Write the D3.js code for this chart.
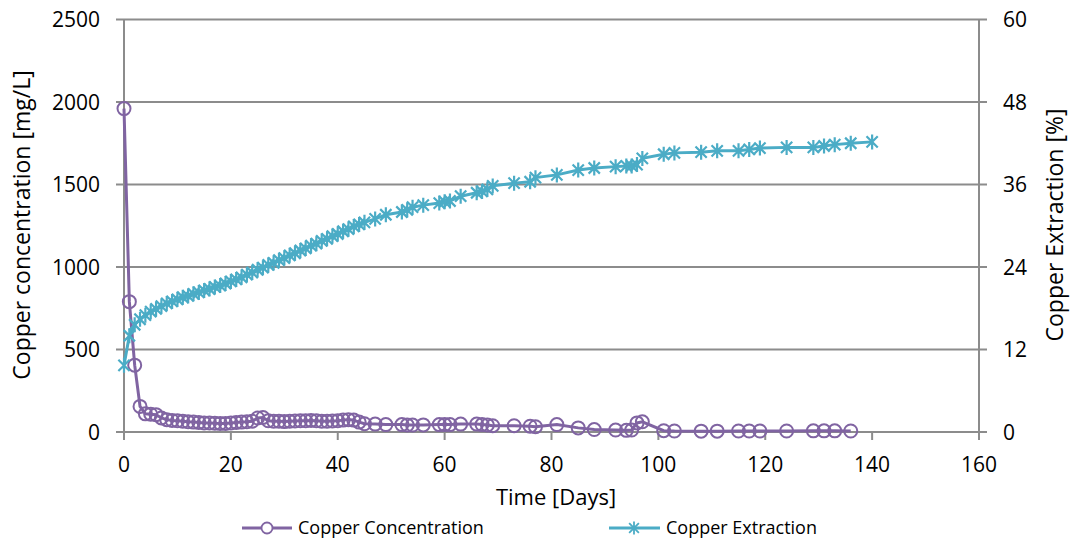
<!DOCTYPE html>
<html>
<head>
<meta charset="utf-8">
<script src="https://d3js.org/d3.v7.min.js"></script>
<style>
  body { margin: 0; background: #fff; }
  text { font-family: "Open Sans", sans-serif; fill: #000; }
</style>
</head>
<body>
<svg id="chart" width="1072" height="542"></svg>
<script>
// sampling days (extraction has one more reading at day 140)
var days = [0,1,2,3,4,5,6,7,8,9,10,11,12,13,14,15,16,17,18,19,20,21,22,23,24,25,26,27,28,29,
  30,31,32,33,34,35,36,37,38,39,40,41,42,43,44,45,47,49,52,53,54,56,59,60,61,63,66,67,68,69,
  73,76,77,81,85,88,92,94,95,96,97,101,103,108,111,115,117,119,124,129,131,133,136,140];

// copper concentration [mg/L]
var concentration = [1960,790,405,155,110,108,105,85,75,70,68,65,62,60,58,55,55,53,52,52,
  55,58,60,62,65,85,88,68,65,65,63,65,67,68,68,70,68,65,65,67,68,72,75,72,60,50,
  48,45,45,42,42,43,45,45,45,48,48,45,42,38,38,35,32,45,25,15,12,10,12,55,62,
  8,6,5,5,6,6,6,6,7,7,7,6,null];

// copper extraction [%]
var extraction = [9.7,14.0,15.6,16.4,17.0,17.5,17.9,18.3,18.7,19.0,19.3,19.6,19.8,20.1,20.3,
  20.6,20.8,21.1,21.3,21.6,21.9,22.2,22.5,22.9,23.2,23.6,23.9,24.3,24.6,25.0,25.3,25.7,26.0,
  26.4,26.7,27.1,27.4,27.8,28.1,28.5,28.8,29.2,29.5,29.9,30.2,30.5,
  31.0,31.6,32.0,32.3,32.7,33.0,33.3,33.5,33.6,34.3,34.8,35.0,35.3,35.8,36.2,36.4,37.0,37.4,
  38.1,38.4,38.6,38.7,38.7,38.9,39.8,40.4,40.6,40.7,40.9,40.9,41.1,41.3,41.4,41.4,41.6,41.8,42.0,42.2];

var xTicks = [0,20,40,60,80,100,120,140,160];
var leftTicks = [0,500,1000,1500,2000,2500];
var rightTicks = [0,12,24,36,48,60];

var purple = "#8064a2", teal = "#4bacc6", grid = "#8c8c8c";

var svg = d3.select("#chart");

var x = d3.scaleLinear().domain([0,160]).range([124,979]);
var yL = d3.scaleLinear().domain([0,2500]).range([432,19.5]);
var yR = d3.scaleLinear().domain([0,60]).range([432,19.5]);

// horizontal gridlines
svg.append("g").selectAll("line").data(leftTicks).join("line")
  .attr("x1", x(0) - 8).attr("x2", x(160) + 8)
  .attr("y1", d => yL(d)).attr("y2", d => yL(d))
  .attr("stroke", grid).attr("stroke-width", 2);

// left and right axis lines
svg.append("line").attr("x1", x(0)).attr("x2", x(0)).attr("y1", yL(2500)).attr("y2", yL(0) + 8)
  .attr("stroke", grid).attr("stroke-width", 2);
svg.append("line").attr("x1", x(160)).attr("x2", x(160)).attr("y1", yL(2500)).attr("y2", yL(0) + 8)
  .attr("stroke", grid).attr("stroke-width", 2);

// bottom tick marks
svg.append("g").selectAll("line").data(xTicks).join("line")
  .attr("x1", d => x(d)).attr("x2", d => x(d))
  .attr("y1", yL(0)).attr("y2", yL(0) + 8)
  .attr("stroke", grid).attr("stroke-width", 2);

// tick labels
svg.append("g").selectAll("text").data(leftTicks).join("text")
  .attr("x", 100).attr("y", d => yL(d)).attr("dy", "0.36em")
  .attr("text-anchor", "end").style("font-size", "21px")
  .text(d => d);

svg.append("g").selectAll("text").data(rightTicks).join("text")
  .attr("x", 1003).attr("y", d => yR(d)).attr("dy", "0.36em")
  .attr("text-anchor", "start").style("font-size", "21px")
  .text(d => d);

svg.append("g").selectAll("text").data(xTicks).join("text")
  .attr("x", d => x(d)).attr("y", 472)
  .attr("text-anchor", "middle").style("font-size", "21px")
  .text(d => d);

// axis titles
svg.append("text").attr("x", 556).attr("y", 505).attr("text-anchor", "middle")
  .style("font-size", "22px").text("Time [Days]");
svg.append("text").attr("transform", "translate(30,225) rotate(-90)")
  .attr("text-anchor", "middle").style("font-size", "23px")
  .text("Copper concentration [mg/L]");
svg.append("text").attr("transform", "translate(1063,225) rotate(-90)")
  .attr("text-anchor", "middle").style("font-size", "23px")
  .text("Copper Extraction [%]");

// star (asterisk) marker path
function star(cx, cy, s) {
  var d = s * 0.75;
  return "M" + (cx - d) + "," + (cy - d) + "L" + (cx + d) + "," + (cy + d) +
    "M" + (cx - d) + "," + (cy + d) + "L" + (cx + d) + "," + (cy - d) +
    "M" + cx + "," + (cy - s) + "L" + cx + "," + (cy + s);
}

var concData = days.map((d, i) => ({ day: d, v: concentration[i] })).filter(d => d.v != null);
var extData = days.map((d, i) => ({ day: d, v: extraction[i] })).filter(d => d.v != null);

// concentration series
svg.append("path").datum(concData)
  .attr("fill", "none").attr("stroke", purple).attr("stroke-width", 3)
  .attr("d", d3.line().x(d => x(d.day)).y(d => yL(d.v)));
svg.append("g").selectAll("circle").data(concData).join("circle")
  .attr("cx", d => x(d.day)).attr("cy", d => yL(d.v)).attr("r", 6.5)
  .attr("fill", "none").attr("stroke", purple).attr("stroke-width", 2);

// extraction series
svg.append("path").datum(extData)
  .attr("fill", "none").attr("stroke", teal).attr("stroke-width", 3)
  .attr("d", d3.line().x(d => x(d.day)).y(d => yR(d.v)));
svg.append("g").selectAll("path").data(extData).join("path")
  .attr("d", d => star(x(d.day), yR(d.v), 7.5))
  .attr("fill", "none").attr("stroke", teal).attr("stroke-width", 2.2);

// legend
var lg = svg.append("g");
lg.append("line").attr("x1", 242).attr("x2", 292).attr("y1", 528).attr("y2", 528)
  .attr("stroke", purple).attr("stroke-width", 3);
lg.append("circle").attr("cx", 267).attr("cy", 528).attr("r", 5.5)
  .attr("fill", "#fff").attr("stroke", purple).attr("stroke-width", 1.8);
lg.append("text").attr("x", 298).attr("y", 528).attr("dy", "0.36em")
  .style("font-size", "18px").text("Copper Concentration");

lg.append("line").attr("x1", 609).attr("x2", 660).attr("y1", 528).attr("y2", 528)
  .attr("stroke", teal).attr("stroke-width", 3);
lg.append("path").attr("d", star(634, 528, 6.5))
  .attr("fill", "none").attr("stroke", teal).attr("stroke-width", 1.8);
lg.append("text").attr("x", 666).attr("y", 528).attr("dy", "0.36em")
  .style("font-size", "18px").text("Copper Extraction");
</script>
</body>
</html>
